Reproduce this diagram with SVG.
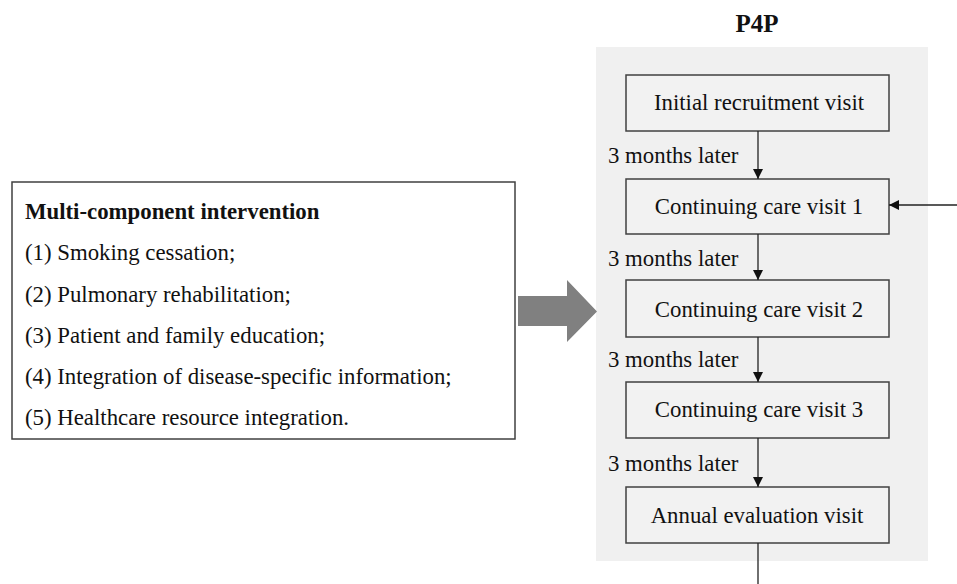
<svg xmlns="http://www.w3.org/2000/svg" width="957" height="584" viewBox="0 0 957 584">
<style>
text{font-family:"Liberation Serif","Times New Roman",serif;fill:#111}
.t{font-size:22.8px;text-anchor:middle}
.lab{font-size:22.8px}
.it{font-size:22.8px}
.box{fill:#f2f2f2;stroke:#404040;stroke-width:1.5}
.ln{stroke:#222;stroke-width:1.3;fill:none;marker-end:url(#ah)}
</style>
<defs>
<marker id="ah" viewBox="0 0 10 10" refX="10" refY="5" markerWidth="10" markerHeight="10" markerUnits="userSpaceOnUse" orient="auto">
<path d="M0,0 L10,5 L0,10 z" fill="#111"/>
</marker>
</defs>
<rect id="panel" x="596" y="47" width="332" height="514" fill="#f0f0f0"/>
<text x="757" y="32" style="font-size:25px;font-weight:bold;text-anchor:middle">P4P</text>
<g id="intervention">
<rect x="12" y="182" width="503" height="257" fill="#fff" stroke="#404040" stroke-width="1.5"/>
<text x="25" y="219" style="font-size:22.8px;font-weight:bold">Multi-component intervention</text>
<text class="it" x="25" y="260">(1) Smoking cessation;</text>
<text class="it" x="25" y="301.5">(2) Pulmonary rehabilitation;</text>
<text class="it" x="25" y="342.5">(3) Patient and family education;</text>
<text class="it" x="25" y="384">(4) Integration of disease-specific information;</text>
<text class="it" x="25" y="425">(5) Healthcare resource integration.</text>
</g>
<g id="bigarrow">
<path d="M518,296 H567 V280 L597,311.5 L567,342 V326 H518 z" fill="#808080"/>
</g>
<g id="n1"><rect class="box" x="626" y="75" width="263" height="56"/><text class="t" x="759" y="110">Initial recruitment visit</text></g>
<g id="n2"><rect class="box" x="626" y="179" width="263" height="55"/><text class="t" x="759" y="214">Continuing care visit 1</text></g>
<g id="n3"><rect class="box" x="626" y="280" width="263" height="57"/><text class="t" x="759" y="316.5">Continuing care visit 2</text></g>
<g id="n4"><rect class="box" x="626" y="382" width="263" height="56"/><text class="t" x="759" y="417">Continuing care visit 3</text></g>
<g id="n5"><rect class="box" x="626" y="487" width="263" height="56"/><text class="t" x="757" y="522.5">Annual evaluation visit</text></g>
<g id="connectors">
<line class="ln" x1="758" y1="131" x2="758" y2="179"/>
<line class="ln" x1="758" y1="234" x2="758" y2="280"/>
<line class="ln" x1="758" y1="337" x2="758" y2="382"/>
<line class="ln" x1="758" y1="438" x2="758" y2="487"/>
<line x1="758" y1="543" x2="758" y2="584" stroke="#222" stroke-width="1.3"/>
<line class="ln" x1="957" y1="205" x2="889" y2="205"/>
</g>
<g id="labels">
<text class="lab" x="608" y="163">3 months later</text>
<text class="lab" x="608" y="266">3 months later</text>
<text class="lab" x="608" y="367">3 months later</text>
<text class="lab" x="608" y="471">3 months later</text>
</g>
</svg>
